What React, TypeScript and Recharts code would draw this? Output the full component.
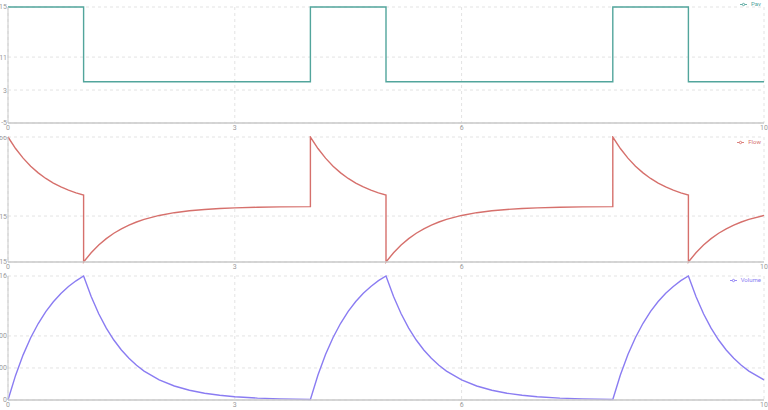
import { LineChart, Line, XAxis, YAxis, CartesianGrid, Legend } from "recharts";

// time in seconds, 3 breaths (insp 1 s, period 4 s)
const time = [
  0, 0.1, 0.2, 0.3, 0.4, 0.5, 0.6, 0.7, 0.8, 0.9, 1.0,
  1.0, 1.1, 1.2, 1.3, 1.4, 1.5, 1.6, 1.7, 1.8, 2.0, 2.2, 2.4, 2.6, 2.8, 3.0, 3.3, 3.6, 4.0,
  4.0, 4.1, 4.2, 4.3, 4.4, 4.5, 4.6, 4.7, 4.8, 4.9, 5.0,
  5.0, 5.1, 5.2, 5.3, 5.4, 5.5, 5.6, 5.7, 5.8, 6.0, 6.2, 6.4, 6.6, 6.8, 7.0, 7.3, 7.6, 8.0,
  8.0, 8.1, 8.2, 8.3, 8.4, 8.5, 8.6, 8.7, 8.8, 8.9, 9.0,
  9.0, 9.1, 9.2, 9.3, 9.4, 9.5, 9.6, 9.7, 9.8, 10.0,
];

const pav = [
  23.15, 23.15, 23.15, 23.15, 23.15, 23.15, 23.15, 23.15, 23.15, 23.15, 23.15,
  5, 5, 5, 5, 5, 5, 5, 5, 5, 5, 5, 5, 5, 5, 5, 5, 5, 5,
  23.15, 23.15, 23.15, 23.15, 23.15, 23.15, 23.15, 23.15, 23.15, 23.15, 23.15,
  5, 5, 5, 5, 5, 5, 5, 5, 5, 5, 5, 5, 5, 5, 5, 5, 5, 5,
  23.15, 23.15, 23.15, 23.15, 23.15, 23.15, 23.15, 23.15, 23.15, 23.15, 23.15,
  5, 5, 5, 5, 5, 5, 5, 5, 5, 5,
];

const flow = [
  0.2266, 0.1889, 0.1575, 0.1314, 0.1095, 0.0913, 0.0762, 0.0635, 0.0529, 0.0441, 0.0368,
  -0.1815, -0.1513, -0.1262, -0.1052, -0.0877, -0.0731, -0.061, -0.0509, -0.0424, -0.0295, -0.0205, -0.0142, -0.0099, -0.0069, -0.0048, -0.0028, -0.0016, -0.0008,
  0.2266, 0.1889, 0.1575, 0.1314, 0.1095, 0.0913, 0.0762, 0.0635, 0.0529, 0.0441, 0.0368,
  -0.1815, -0.1513, -0.1262, -0.1052, -0.0877, -0.0731, -0.061, -0.0509, -0.0424, -0.0295, -0.0205, -0.0142, -0.0099, -0.0069, -0.0048, -0.0028, -0.0016, -0.0008,
  0.2266, 0.1889, 0.1575, 0.1314, 0.1095, 0.0913, 0.0762, 0.0635, 0.0529, 0.0441, 0.0368,
  -0.1815, -0.1513, -0.1262, -0.1052, -0.0877, -0.0731, -0.061, -0.0509, -0.0424, -0.0295,
];

const volume = [
  0, 76.8, 140.9, 194.3, 238.8, 275.9, 306.9, 332.7, 354.2, 372.2, 387.16,
  387.16, 322.8, 269.2, 224.4, 187.2, 156.0, 130.1, 108.5, 90.4, 62.9, 43.7, 30.4, 21.1, 14.7, 10.2, 5.9, 3.4, 1.7,
  1.7, 78.1, 142.1, 195.3, 239.6, 276.6, 307.4, 333.2, 354.6, 372.5, 387.16,
  387.16, 322.8, 269.2, 224.4, 187.2, 156.0, 130.1, 108.5, 90.4, 62.9, 43.7, 30.4, 21.1, 14.7, 10.2, 5.9, 3.4, 1.7,
  1.7, 78.1, 142.1, 195.3, 239.6, 276.6, 307.4, 333.2, 354.6, 372.5, 387.16,
  387.16, 322.8, 269.2, 224.4, 187.2, 156.0, 130.1, 108.5, 90.4, 62.9,
];

// tick values
const timeTicks = [0, 3, 6, 10];
const pavTicks = [-5, 3, 11, 23.15];
const flowTicks = [-0.1815, -0.0315, 0.2266];
const volumeTicks = [0, 100, 200, 387.16];

const rows = time.map((t, i) => ({ t, pav: pav[i], flow: flow[i], volume: volume[i] }));

const tickStyle = { fontSize: 7, fill: "#9a9a9a" };

interface PanelProps {
  dataKey: string;
  name: string;
  color: string;
  height: number;
  top: number;
  xHeight: number;
  legendTop: number;
  yDomain: any[];
  yTicks: number[];
}

function Panel({ dataKey, name, color, height, top, xHeight, legendTop, yDomain, yTicks }: PanelProps) {
  return (
    <LineChart width={768} height={height} data={rows} margin={{ top, right: 4, bottom: 0, left: 0 }}>
      <CartesianGrid strokeDasharray="3 3" stroke="#e3e3e3" />
      <XAxis
        dataKey="t"
        type="number"
        domain={["dataMin", "dataMax"]}
        ticks={timeTicks}
        interval={0}
        height={xHeight}
        tick={tickStyle}
        tickLine={false}
        tickSize={0}
        tickMargin={2}
        axisLine={{ stroke: "#c9c9c9", strokeWidth: 1.5 }}
      />
      <YAxis
        domain={yDomain}
        ticks={yTicks}
        interval={0}
        width={8}
        tick={tickStyle}
        tickLine={false}
        tickSize={0}
        tickMargin={1}
        axisLine={{ stroke: "#c9c9c9" }}
      />
      <Legend
        verticalAlign="top"
        align="right"
        iconSize={7}
        wrapperStyle={{ top: legendTop, right: -3, height: 0, fontSize: 6, lineHeight: "8px" }}
      />
      <Line
        dataKey={dataKey}
        name={name}
        type="linear"
        stroke={color}
        strokeWidth={1.4}
        dot={false}
        isAnimationActive={false}
      />
    </LineChart>
  );
}

export default function App() {
  return (
    <div
      style={{
        position: "absolute",
        left: 0,
        top: 0,
        width: 768,
        height: 410,
        background: "#fff",
        fontFamily: "Roboto, 'Liberation Sans', sans-serif",
      }}
    >
      <Panel dataKey="pav" name="Pav" color="#52a59c" height={136} top={7} xHeight={13} legendTop={0} yDomain={[-5, "dataMax"]} yTicks={pavTicks} />
      <Panel dataKey="flow" name="Flow" color="#d6706c" height={136} top={1} xHeight={10} legendTop={2} yDomain={["dataMin", "dataMax"]} yTicks={flowTicks} />
      <Panel dataKey="volume" name="Volume" color="#8a7cf2" height={138} top={4} xHeight={10} legendTop={4} yDomain={["dataMin", "dataMax"]} yTicks={volumeTicks} />
    </div>
  );
}
